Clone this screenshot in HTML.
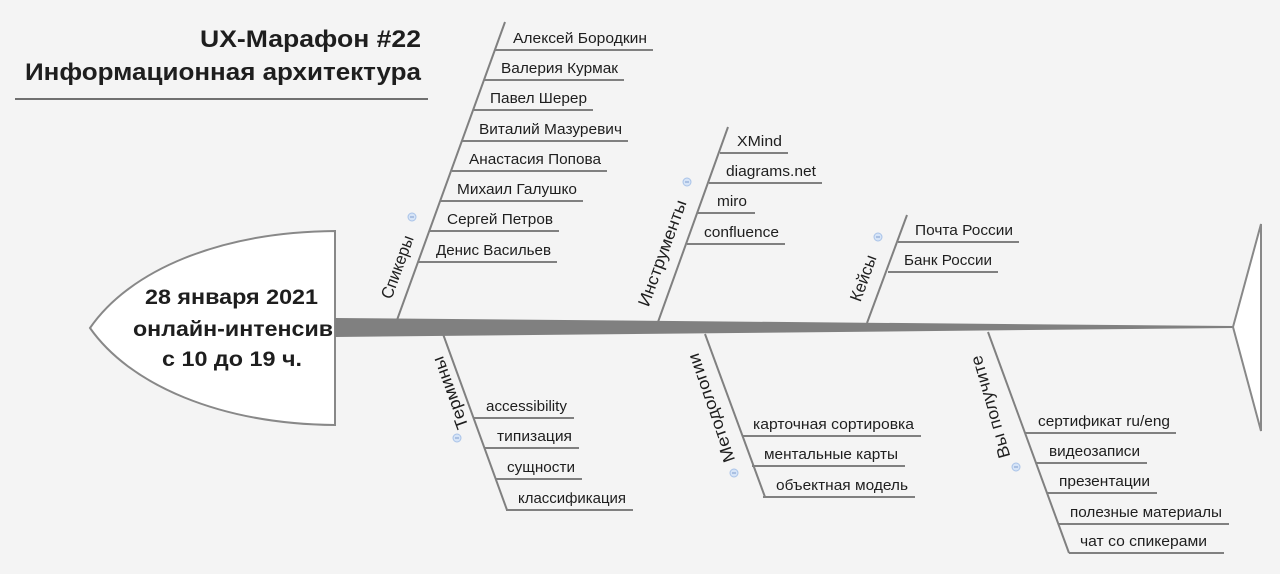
<!DOCTYPE html>
<html><head><meta charset="utf-8"><style>
html,body{margin:0;padding:0;background:#f4f4f4;}
svg{display:block;}
text{font-family:"Liberation Sans","Noto Sans CJK SC",sans-serif;fill:#1e1e1e;}
.i{font-size:15px;}
.l{font-size:17px;}
.b{font-weight:bold;}
</style></head><body>
<svg width="1280" height="574" viewBox="0 0 1280 574" xmlns="http://www.w3.org/2000/svg">
<rect width="1280" height="574" fill="#f4f4f4"/>
<text class="b" x="200" y="47" font-size="24" textLength="221" lengthAdjust="spacingAndGlyphs">UX-Марафон #22</text>
<text class="b" x="25" y="80" font-size="24" textLength="396" lengthAdjust="spacingAndGlyphs">Информационная архитектура</text>
<line x1="15" y1="99" x2="428" y2="99" stroke="#707070" stroke-width="2"/>
<path d="M335,231 C220,232 130,270 90,328 C130,385 220,424 335,425 Z" fill="#fff" stroke="#888" stroke-width="2"/>
<text class="b" x="145" y="304" font-size="21" textLength="173" lengthAdjust="spacingAndGlyphs">28 января 2021</text>
<text class="b" x="133" y="336" font-size="21" textLength="200" lengthAdjust="spacingAndGlyphs">онлайн-интенсив</text>
<text class="b" x="162" y="366" font-size="21" textLength="140" lengthAdjust="spacingAndGlyphs">с 10 до 19 ч.</text>
<polygon points="335,318 1233,326 1233,328 335,337" fill="#808080"/>
<polygon points="1233,327 1261,224 1261,431" fill="#fff" stroke="#888" stroke-width="2"/>
<g stroke="#808080" stroke-width="2" fill="none">
<line x1="397" y1="320" x2="505" y2="22"/>
<line x1="658" y1="322" x2="728" y2="127"/>
<line x1="867" y1="323" x2="907" y2="215"/>
<line x1="443" y1="334" x2="507" y2="510"/>
<line x1="705" y1="334" x2="765" y2="497"/>
<line x1="988" y1="332" x2="1069" y2="553"/>
<line x1="495" y1="50" x2="653" y2="50"/>
<line x1="484" y1="80" x2="624" y2="80"/>
<line x1="474" y1="110" x2="593" y2="110"/>
<line x1="462" y1="141" x2="628" y2="141"/>
<line x1="452" y1="171" x2="607" y2="171"/>
<line x1="440" y1="201" x2="583" y2="201"/>
<line x1="430" y1="231" x2="559" y2="231"/>
<line x1="418" y1="262" x2="557" y2="262"/>
<line x1="720" y1="153" x2="788" y2="153"/>
<line x1="709" y1="183" x2="822" y2="183"/>
<line x1="698" y1="213" x2="755" y2="213"/>
<line x1="687" y1="244" x2="785" y2="244"/>
<line x1="898" y1="242" x2="1019" y2="242"/>
<line x1="888" y1="272" x2="998" y2="272"/>
<line x1="473" y1="418" x2="574" y2="418"/>
<line x1="484" y1="448" x2="579" y2="448"/>
<line x1="495" y1="479" x2="582" y2="479"/>
<line x1="506" y1="510" x2="633" y2="510"/>
<line x1="742" y1="436" x2="921" y2="436"/>
<line x1="752" y1="466" x2="905" y2="466"/>
<line x1="763" y1="497" x2="915" y2="497"/>
<line x1="1025" y1="433" x2="1176" y2="433"/>
<line x1="1036" y1="463" x2="1147" y2="463"/>
<line x1="1047" y1="493" x2="1157" y2="493"/>
<line x1="1059" y1="524" x2="1229" y2="524"/>
<line x1="1069" y1="553" x2="1224" y2="553"/>
</g>
<text class="i" x="513" y="43" textLength="134" lengthAdjust="spacingAndGlyphs">Алексей Бородкин</text>
<text class="i" x="501" y="73" textLength="117" lengthAdjust="spacingAndGlyphs">Валерия Курмак</text>
<text class="i" x="490" y="103" textLength="97" lengthAdjust="spacingAndGlyphs">Павел Шерер</text>
<text class="i" x="479" y="134" textLength="143" lengthAdjust="spacingAndGlyphs">Виталий Мазуревич</text>
<text class="i" x="469" y="164" textLength="132" lengthAdjust="spacingAndGlyphs">Анастасия Попова</text>
<text class="i" x="457" y="194" textLength="120" lengthAdjust="spacingAndGlyphs">Михаил Галушко</text>
<text class="i" x="447" y="224" textLength="106" lengthAdjust="spacingAndGlyphs">Сергей Петров</text>
<text class="i" x="436" y="255" textLength="115" lengthAdjust="spacingAndGlyphs">Денис Васильев</text>
<text class="i" x="737" y="146" textLength="45" lengthAdjust="spacingAndGlyphs">XMind</text>
<text class="i" x="726" y="176" textLength="90" lengthAdjust="spacingAndGlyphs">diagrams.net</text>
<text class="i" x="717" y="206" textLength="30" lengthAdjust="spacingAndGlyphs">miro</text>
<text class="i" x="704" y="237" textLength="75" lengthAdjust="spacingAndGlyphs">confluence</text>
<text class="i" x="915" y="235" textLength="98" lengthAdjust="spacingAndGlyphs">Почта России</text>
<text class="i" x="904" y="265" textLength="88" lengthAdjust="spacingAndGlyphs">Банк России</text>
<text class="i" x="486" y="411" textLength="81" lengthAdjust="spacingAndGlyphs">accessibility</text>
<text class="i" x="497" y="441" textLength="75" lengthAdjust="spacingAndGlyphs">типизация</text>
<text class="i" x="507" y="472" textLength="68" lengthAdjust="spacingAndGlyphs">сущности</text>
<text class="i" x="518" y="503" textLength="108" lengthAdjust="spacingAndGlyphs">классификация</text>
<text class="i" x="753" y="429" textLength="161" lengthAdjust="spacingAndGlyphs">карточная сортировка</text>
<text class="i" x="764" y="459" textLength="134" lengthAdjust="spacingAndGlyphs">ментальные карты</text>
<text class="i" x="776" y="490" textLength="132" lengthAdjust="spacingAndGlyphs">объектная модель</text>
<text class="i" x="1038" y="426" textLength="132" lengthAdjust="spacingAndGlyphs">сертификат ru/eng</text>
<text class="i" x="1049" y="456" textLength="91" lengthAdjust="spacingAndGlyphs">видеозаписи</text>
<text class="i" x="1059" y="486" textLength="91" lengthAdjust="spacingAndGlyphs">презентации</text>
<text class="i" x="1070" y="517" textLength="152" lengthAdjust="spacingAndGlyphs">полезные материалы</text>
<text class="i" x="1080" y="546" textLength="127" lengthAdjust="spacingAndGlyphs">чат со спикерами</text>
<text class="l" transform="translate(397,267) rotate(-70)" x="0" y="6" text-anchor="middle" textLength="66" lengthAdjust="spacingAndGlyphs">Спикеры</text>
<text class="l" transform="translate(662,253) rotate(-70)" x="0" y="6" text-anchor="middle" textLength="112" lengthAdjust="spacingAndGlyphs">Инструменты</text>
<text class="l" transform="translate(863,278) rotate(-70)" x="0" y="6" text-anchor="middle" textLength="48" lengthAdjust="spacingAndGlyphs">Кейсы</text>
<text class="l" transform="translate(450,393) rotate(-110)" x="0" y="6" text-anchor="middle" textLength="76" lengthAdjust="spacingAndGlyphs">Термины</text>
<text class="l" transform="translate(711,408) rotate(-109)" x="0" y="6" text-anchor="middle" textLength="114" lengthAdjust="spacingAndGlyphs">Методологии</text>
<text class="l" transform="translate(990,407) rotate(-106)" x="0" y="6" text-anchor="middle" textLength="106" lengthAdjust="spacingAndGlyphs">Вы получите</text>
<g fill="#d6e4f7" stroke="#a9c3e8" stroke-width="1">
<circle cx="412" cy="217" r="4"/>
<circle cx="687" cy="182" r="4"/>
<circle cx="878" cy="237" r="4"/>
<circle cx="457" cy="438" r="4"/>
<circle cx="734" cy="473" r="4"/>
<circle cx="1016" cy="467" r="4"/>
</g>
<g stroke="#7f9ccc" stroke-width="1">
<line x1="410" y1="217" x2="414" y2="217"/>
<line x1="685" y1="182" x2="689" y2="182"/>
<line x1="876" y1="237" x2="880" y2="237"/>
<line x1="455" y1="438" x2="459" y2="438"/>
<line x1="732" y1="473" x2="736" y2="473"/>
<line x1="1014" y1="467" x2="1018" y2="467"/>
</g>
</svg>
</body></html>
